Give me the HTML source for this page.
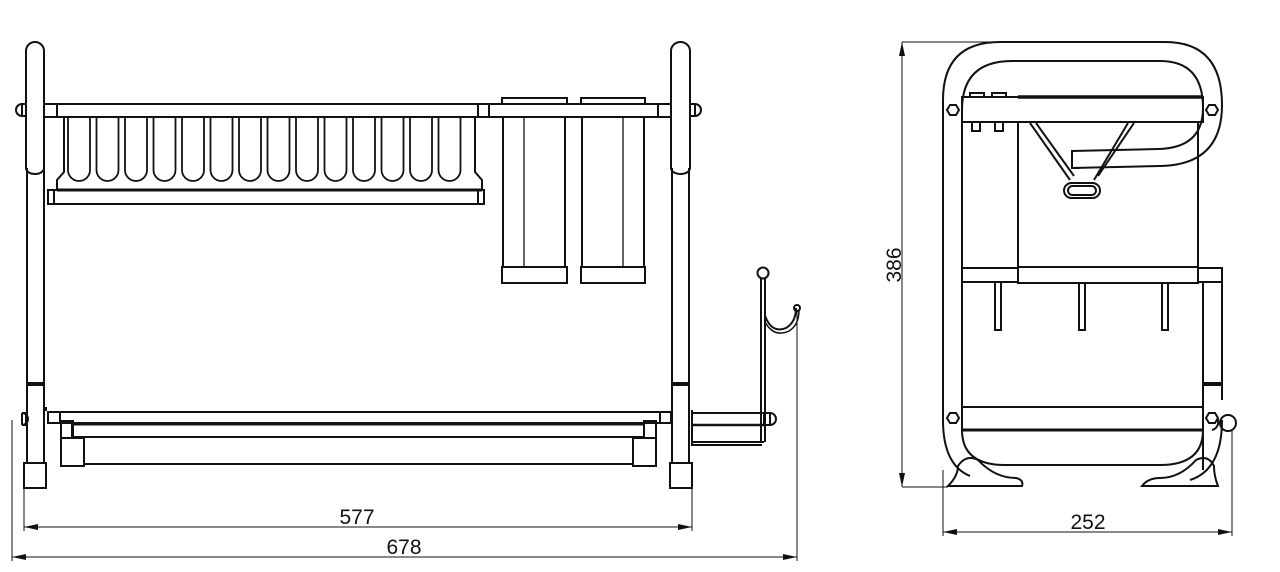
<!DOCTYPE html>
<html><head><meta charset="utf-8"><style>
html,body{margin:0;padding:0;background:#fff;width:1280px;height:572px;overflow:hidden}
svg{display:block}
text{font-family:"Liberation Sans Narrow","Liberation Sans",sans-serif;font-size:21px;fill:#111}
</style></head><body>
<svg width="1280" height="572" viewBox="0 0 1280 572" xmlns="http://www.w3.org/2000/svg">
<g fill="none" stroke="#111" stroke-width="2">
<!-- LEFT POST -->
<path d="M26 168 V51 a9 9 0 0 1 18 0 V168 a9 6 0 0 1 -18 0"/>
<path d="M27 168 V463 M44 168 V463"/>
<line x1="27" y1="384" x2="44" y2="384" stroke-width="4"/>
<path d="M24 463 h22 v25 h-22 z"/>
<!-- RIGHT POST -->
<path d="M671 168 V51 a9.5 9 0 0 1 19 0 V168 a9.5 6 0 0 1 -19 0"/>
<path d="M672 168 V463 M689 168 V463"/>
<line x1="672" y1="384" x2="689" y2="384" stroke-width="4"/>
<path d="M670 463 h22 v25 h-22 z"/>
<!-- bolts -->
<path d="M26 104 h-4 a6 6 0 0 0 0 12 h4 z"/><line x1="22" y1="104" x2="22" y2="116"/>
<path d="M690 104 h5 a6 6 0 0 1 0 12 h-5 z"/><line x1="695" y1="104" x2="695" y2="116"/>
<path d="M26 413 h-4 a6 6 0 0 1 0 12 h4 z"/><line x1="22" y1="413" x2="22" y2="425"/>
<path d="M764 413 h6 a6 6 0 0 1 0 12 h-6 z"/><line x1="770" y1="413" x2="770" y2="425"/>
<!-- TOP SHELF BAR -->
<rect x="44" y="104" width="627" height="13"/>
<line x1="57" y1="104" x2="57" y2="117"/>
<line x1="478" y1="104" x2="478" y2="117"/><line x1="489" y1="104" x2="489" y2="117"/>
<line x1="658" y1="104" x2="658" y2="117"/>
<!-- plate rack -->
<path d="M64 117 V172 L57 180 V190 M475 117 V172 L482 180 V190"/>
<rect x="48" y="190" width="436" height="14"/>
<line x1="54" y1="190" x2="54" y2="204"/><line x1="478" y1="190" x2="478" y2="204"/>
</g>
<g fill="none" stroke="#111" stroke-width="1.6">
<path d="M57 190 H482" stroke-width="3"/>
</g>
<g id="fingers" fill="none" stroke="#111" stroke-width="1.8">
<path d="M68 117 V170 a11 11 0 0 0 22 0 V117"/>
<path d="M96.5 117 V170 a11 11 0 0 0 22 0 V117"/>
<path d="M125 117 V170 a11 11 0 0 0 22 0 V117"/>
<path d="M153.5 117 V170 a11 11 0 0 0 22 0 V117"/>
<path d="M182 117 V170 a11 11 0 0 0 22 0 V117"/>
<path d="M210.5 117 V170 a11 11 0 0 0 22 0 V117"/>
<path d="M239 117 V170 a11 11 0 0 0 22 0 V117"/>
<path d="M267.5 117 V170 a11 11 0 0 0 22 0 V117"/>
<path d="M296 117 V170 a11 11 0 0 0 22 0 V117"/>
<path d="M324.5 117 V170 a11 11 0 0 0 22 0 V117"/>
<path d="M353 117 V170 a11 11 0 0 0 22 0 V117"/>
<path d="M381.5 117 V170 a11 11 0 0 0 22 0 V117"/>
<path d="M410 117 V170 a11 11 0 0 0 22 0 V117"/>
<path d="M438.5 117 V170 a11 11 0 0 0 22 0 V117"/>
</g>
<g fill="none" stroke="#111" stroke-width="2">
<!-- knife holders -->
<rect x="502" y="98" width="65" height="6"/>
<rect x="581" y="98" width="64" height="6"/>
<path d="M503 117 V267 M565 117 V267 M582 117 V267 M644 117 V267"/>
<line x1="524" y1="117" x2="524" y2="267" stroke-width="1.3"/>
<line x1="623" y1="117" x2="623" y2="267" stroke-width="1.3"/>
<rect x="502" y="267" width="65" height="16"/>
<rect x="581" y="267" width="64" height="16"/>
<!-- BOTTOM TRAY -->
<rect x="48" y="412" width="623" height="11"/>
<line x1="60" y1="412" x2="60" y2="423"/><line x1="660" y1="412" x2="660" y2="423"/>
<path d="M72 423 V437 H644 V423"/>
<line x1="72" y1="424" x2="644" y2="424" stroke-width="3"/>
<rect x="61" y="421" width="12" height="17"/>
<rect x="644" y="421" width="12" height="17"/>
<rect x="61" y="438" width="23" height="28"/>
<rect x="633" y="438" width="23" height="28"/>
<line x1="84" y1="464" x2="633" y2="464"/>
<line x1="44" y1="409" x2="47" y2="409" stroke-width="4"/>
<!-- hook bracket -->
<path d="M692 410 V445 H762 V445"/>
<line x1="692" y1="413" x2="764" y2="413"/>
<line x1="692" y1="425" x2="764" y2="425" stroke-width="2.5"/>
<line x1="692" y1="442" x2="764" y2="442"/>
<path d="M761 278 V442 M765 278 V442"/>
<circle cx="763" cy="273" r="5.5"/>
<path d="M765 316 Q772 334 786 328 Q796 322 796 308"/>
<path d="M765 322 Q774 338 789 331 Q799 325 799 310" stroke-width="1.5"/>
<circle cx="797" cy="308" r="3"/>
</g>
<!-- DIMENSIONS front -->
<g fill="none" stroke="#111" stroke-width="1">
<line x1="24" y1="488" x2="24" y2="531"/>
<line x1="692" y1="488" x2="692" y2="531"/>
<line x1="12" y1="420" x2="12" y2="561"/>
<line x1="797" y1="310" x2="797" y2="561"/>
<line x1="24" y1="527" x2="692" y2="527"/>
<line x1="12" y1="557" x2="797" y2="557"/>
</g>
<g fill="#111">
<path d="M24 527 l14 -3 v6 z"/><path d="M692 527 l-14 -3 v6 z"/>
<path d="M12 557 l14 -3 v6 z"/><path d="M797 557 l-14 -3 v6 z"/>
</g>
<text x="357" y="524" text-anchor="middle">577</text>
<text x="404" y="554" text-anchor="middle">678</text>

<!-- SIDE VIEW -->
<g fill="none" stroke="#111" stroke-width="2">
<!-- outer tube -->
<path d="M943 420 V100 Q943 42 1000 42 H1165 Q1222 42 1222 105 Q1222 165 1160 166 L1072 168"/>
<path d="M962 410 V110 Q962 61 1012 61 H1160 Q1203 61 1203 108 Q1203 148 1158 149 L1072 151"/>
<path d="M1072 150 V168 H1080"/>
<!-- lower loop -->
<path d="M943 420 Q943 465 970 476"/>
<path d="M962 430 Q962 465 1005 465 H1160 Q1203 465 1203 430"/>
<path d="M1222 420 Q1222 470 1190 480"/>
<!-- feet -->
<path d="M948 486 Q958 476 958 466 Q966 454 978 460 Q995 478 1016 478 Q1024 480 1022 486 Z"/>
<path d="M1142 486 Q1148 478 1160 478 Q1180 478 1196 460 Q1208 454 1214 466 Q1214 476 1218 486 Z"/>
<!-- top shelf -->
<rect x="962" y="97" width="241" height="25"/>
<line x1="1018" y1="97" x2="1203" y2="97" stroke-width="3.5"/>
<rect x="970" y="93" width="14" height="4"/><rect x="992" y="93" width="14" height="4"/>
<rect x="972" y="122" width="8" height="9"/><rect x="995" y="122" width="8" height="9"/>
<path d="M1018 122 V268 M1198 122 V268"/>
<!-- V holder -->
<path d="M1030 123 L1070 180 M1036 123 L1074 176 M1134 123 L1098 176 M1128 123 L1094 180" />
<rect x="1064" y="183" width="36" height="15" rx="7.5"/>
<rect x="1068" y="186" width="28" height="9" rx="4.5"/>
<!-- middle shelf -->
<rect x="962" y="268" width="56" height="14"/>
<rect x="1018" y="267" width="180" height="16"/>
<rect x="1198" y="268" width="24" height="14"/>
<path d="M995 283 V330 h6 V283 M1079 283 V330 h6 V283 M1162 283 V330 h6 V283"/>
<path d="M1203 283 V470 M1222 283 V400"/>
<line x1="1203" y1="384" x2="1222" y2="384" stroke-width="4"/>
<path d="M1208 414 a7 7 0 1 1 4 16" />
<!-- lower bar -->
<rect x="962" y="407" width="241" height="23"/>
<line x1="962" y1="430" x2="1203" y2="430" stroke-width="3"/>
</g>
<g fill="#fff" stroke="#111" stroke-width="2">
<polygon points="947,110 950,105 956,105 959,110 956,115 950,115"/>
<polygon points="1206,110 1209,105 1215,105 1218,110 1215,115 1209,115"/>
<polygon points="947,418 950,413 956,413 959,418 956,423 950,423"/>
<polygon points="1206,418 1209,413 1215,413 1218,418 1215,423 1209,423"/>
<circle cx="1228" cy="423" r="8" fill="none"/>
</g>
<g fill="none" stroke="#111" stroke-width="1">
<line x1="902" y1="42" x2="1000" y2="42"/>
<line x1="902" y1="487" x2="948" y2="487"/>
<line x1="902" y1="42" x2="902" y2="487"/>
<line x1="943" y1="470" x2="943" y2="536"/>
<line x1="1232" y1="430" x2="1232" y2="536"/>
<line x1="943" y1="532" x2="1232" y2="532"/>
</g>
<g fill="#111">
<path d="M902 42 l-3 14 h6 z"/><path d="M902 487 l-3 -14 h6 z"/>
<path d="M943 532 l14 -3 v6 z"/><path d="M1232 532 l-14 -3 v6 z"/>
</g>
<text transform="translate(901,265) rotate(-90)" text-anchor="middle">386</text>
<text x="1088" y="529" text-anchor="middle">252</text>
</svg>
</body></html>
